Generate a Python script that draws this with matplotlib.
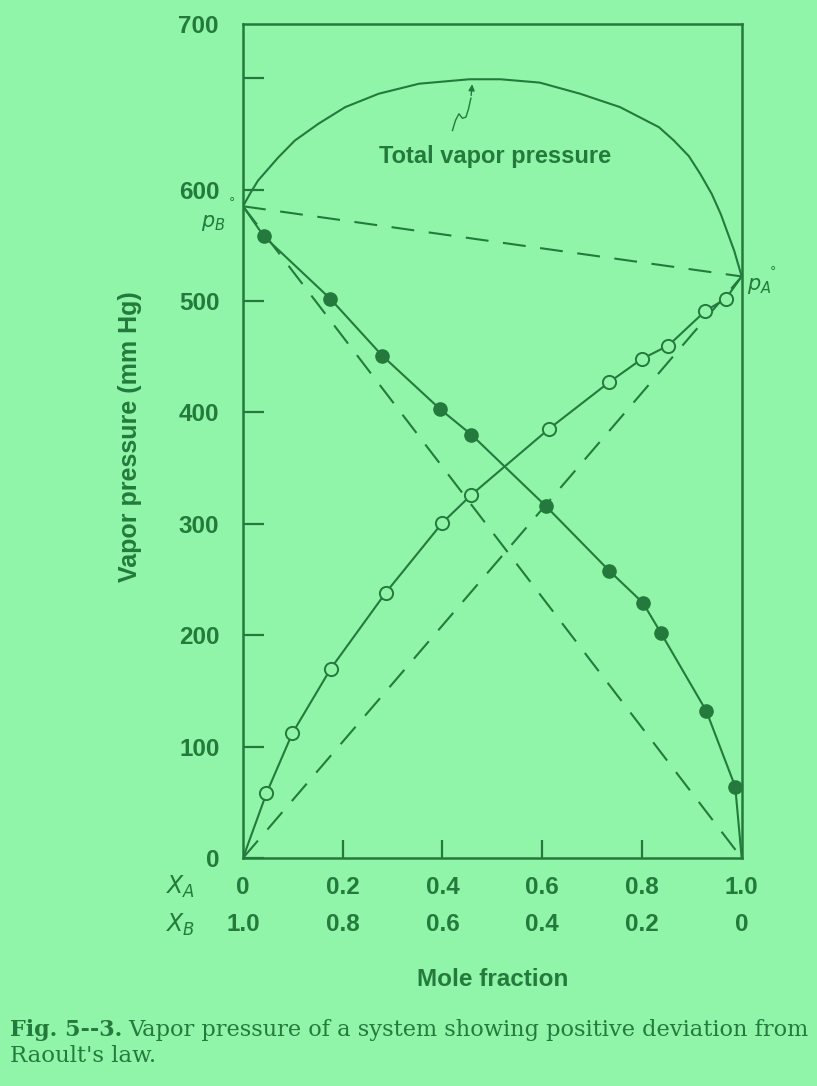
import numpy as np
import matplotlib
matplotlib.use("Agg")
import matplotlib.pyplot as plt

BG = "#90f5a8"
INK = "#237a3c"
SANS = ["Liberation Sans", "DejaVu Sans"]

# partial pressure of A (open circles) and B (filled circles), mm Hg
xa_open = [0.047, 0.099, 0.176, 0.286, 0.400, 0.458, 0.613, 0.734, 0.800, 0.853, 0.927, 0.968]
pa_open = [58, 112, 170, 238, 301, 326, 385, 427, 448, 460, 491, 502]

xa_filled = [0.042, 0.175, 0.279, 0.395, 0.458, 0.607, 0.734, 0.802, 0.838, 0.929, 0.987]
pb_filled = [558, 502, 451, 403, 380, 316, 258, 229, 202, 132, 64]

# pure component vapor pressures
pA0 = 522
pB0 = 585

# total vapor pressure curve
total_x = [0.0, 0.015, 0.030, 0.071, 0.104, 0.151, 0.205, 0.272, 0.353, 0.454, 0.516, 0.595, 0.676,
           0.756, 0.834, 0.864, 0.894, 0.917, 0.940, 0.958, 0.985, 1.0]
total_p = [585, 597, 608, 629, 644, 659, 674, 686, 695, 699, 699, 696, 686,
           674, 656, 644, 630, 614, 596, 578, 545, 522]

xa_ticks = [0.0, 0.2, 0.4, 0.6, 0.8, 1.0]
xa_labels = ["0", "0.2", "0.4", "0.6", "0.8", "1.0"]
xb_labels = ["1.0", "0.8", "0.6", "0.4", "0.2", "0"]
y_ticks = [0, 100, 200, 300, 400, 500, 600, 700]

# little wavy pointer under the label (annotation only)
pointer_x = [0.420, 0.426, 0.433, 0.440, 0.447, 0.452, 0.457, 0.460]
pointer_y = [653, 662, 668, 664, 665, 672, 682, 697]

fig = plt.figure(figsize=(8.17, 10.86), dpi=100, facecolor=BG)
ax = fig.add_axes([243 / 817, (1086 - 858) / 1086, (741.7 - 243) / 817, (858 - 24) / 1086])
ax.set_facecolor(BG)
ax.set_xlim(0, 1)
ax.set_ylim(0, 748.6)

lw = 1.5
dash = (0, (11, 7))

# Raoult's law lines
ax.plot([0, 1], [0, pA0], color=INK, lw=lw, ls=dash)
ax.plot([0, 1], [pB0, 0], color=INK, lw=lw, ls=dash)
ax.plot([0, 1], [pB0, pA0], color=INK, lw=lw, ls=dash)

# measured curves
ax.plot([0] + xa_open + [1], [0] + pa_open + [pA0], color=INK, lw=lw)
ax.plot([0] + xa_filled + [1], [pB0] + pb_filled + [0], color=INK, lw=lw)
ax.plot(total_x, total_p, color=INK, lw=lw)

ax.plot(xa_open, pa_open, "o", ms=9.5, mfc=BG, mec=INK, mew=1.4, ls="none")
ax.plot(xa_filled, pb_filled, "o", ms=9.5, mfc=INK, mec=INK, ls="none")

ax.plot(pointer_x[:-1], pointer_y[:-1], color=INK, lw=1.0)
ax.annotate("", xy=(pointer_x[-1], pointer_y[-1]), xytext=(pointer_x[-2], pointer_y[-2]),
            arrowprops=dict(arrowstyle="-|>", color=INK, lw=1.0, mutation_scale=9))
ax.text(0.505, 630, "Total vapor pressure", color=INK, fontsize=17, family=SANS,
        fontweight="bold", ha="center", va="center")

ax.text(-0.06, 570, r"$p_B$", color=INK, fontsize=15, ha="center", va="center")
ax.text(-0.022, 588, "°", color=INK, fontsize=9, ha="center", va="center")
ax.text(1.035, 513, r"$p_A$", color=INK, fontsize=15, ha="center", va="center")
ax.text(1.062, 526, "°", color=INK, fontsize=9, ha="center", va="center")

for s in ax.spines.values():
    s.set_color(INK)
    s.set_linewidth(1.8)

ax.set_xticks(xa_ticks[1:-1])
ax.set_xticklabels([])
ax.tick_params(axis="x", direction="in", length=13, width=1.6, color=INK)
ax.set_yticks(y_ticks)
ax.set_yticklabels([str(v) for v in y_ticks[:-1]] + [""])
ax.tick_params(axis="y", direction="in", length=15, width=1.6, color=INK,
               labelcolor=INK, labelsize=17.5, pad=17)
for lab in ax.get_yticklabels():
    lab.set_family(SANS)
    lab.set_fontweight("bold")
ax.text(-0.05, 746, "700", transform=ax.get_yaxis_transform(), color=INK, fontsize=17.5,
        family=SANS, fontweight="bold", ha="right", va="center")

# two rows of mole fraction labels
trans = ax.get_xaxis_transform()
for x, la, lb in zip(xa_ticks, xa_labels, xb_labels):
    ax.text(x, -0.0348, la, transform=trans, color=INK, fontsize=17.5, family=SANS,
            fontweight="bold", ha="center", va="center")
    ax.text(x, -0.0803, lb, transform=trans, color=INK, fontsize=17.5, family=SANS,
            fontweight="bold", ha="center", va="center")
ax.text(-0.126, -0.0348, r"$X_A$", transform=trans, color=INK, fontsize=17, ha="center", va="center")
ax.text(-0.126, -0.0803, r"$X_B$", transform=trans, color=INK, fontsize=17, ha="center", va="center")
ax.text(0.5, -0.146, "Mole fraction", transform=trans, color=INK, fontsize=17.5, family=SANS,
        fontweight="bold", ha="center", va="center")

fig.text(130 / 817, 1 - 437 / 1086, "Vapor pressure (mm Hg)", rotation=90, color=INK,
         fontsize=18, family=SANS, fontweight="bold", ha="center", va="center")

fig.text(10 / 817, 1 - 1030 / 1086, "Fig. 5--3.", color=INK, fontsize=16,
         family="DejaVu Serif", fontweight="bold", va="center")
fig.text(128 / 817, 1 - 1030 / 1086, "Vapor pressure of a system showing positive deviation from",
         color=INK, fontsize=16.2, family="DejaVu Serif", va="center")
fig.text(10 / 817, 1 - 1056 / 1086, "Raoult's law.", color=INK, fontsize=16.5,
         family="DejaVu Serif", va="center")

fig.savefig("out.png", dpi=100, facecolor=BG)
